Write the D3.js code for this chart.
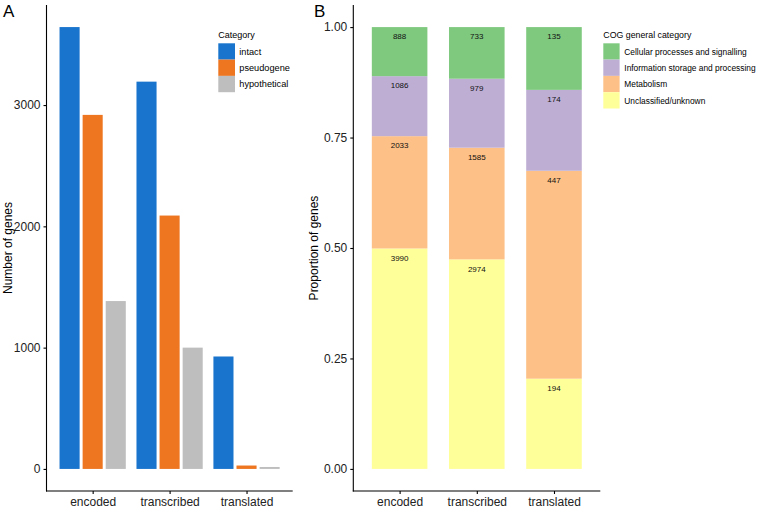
<!DOCTYPE html>
<html><head><meta charset="utf-8">
<script src="https://cdn.jsdelivr.net/npm/d3@7"></script>
<style>body{margin:0;background:#fff}svg{display:block;font-family:"Liberation Sans",Arial,sans-serif}</style>
</head><body><svg id="c" width="757" height="508"></svg>
<script>
// Panel A data
const stages = ["encoded", "transcribed", "translated"];
const categoriesA = ["intact", "pseudogene", "hypothetical"];
const intact = [3643, 3193, 927];
const pseudogene = [2919, 2089, 28];
const hypothetical = [1384, 1000, 16];
const ticksA = [0, 1000, 2000, 3000];
const colorsA = ["#1874CD", "#EE7621", "#BEBEBE"];

// Panel B data (counts, stacked bottom->top)
const cogCategories = ["Cellular processes and signalling", "Information storage and processing", "Metabolism", "Unclassified/unknown"];
const cellular = [888, 733, 135];
const information = [1086, 979, 174];
const metabolism = [2033, 1585, 447];
const unclassified = [3990, 2974, 194];
const ticksB = [0, 0.25, 0.5, 0.75, 1.0];
const colorsB = ["#7FC97F", "#BEAED4", "#FDC086", "#FFFF99"];

const svg = d3.select("#c");
const axisCol = "#000", tickTextCol = "#222";

function styleAxis(g){
  g.selectAll(".domain").remove();
  g.selectAll(".tick line").attr("stroke", axisCol).attr("stroke-width", 1.1);
  g.selectAll(".tick text").attr("fill", tickTextCol).attr("font-size", 12).attr("font-family", "Liberation Sans, Arial, sans-serif");
}

// ---------- Panel A ----------
const xA0 = 46.5, xA1 = 292.7, yTop = 5, yBot = 491;
const yA = d3.scaleLinear().domain([-182, 3825]).range([yBot, yTop]);
const xA = d3.scalePoint().domain(stages).range([xA0, xA1]).padding(0.6);
const stepA = xA.step();
const dodge = d3.scaleBand().domain(categoriesA).range([-0.45*stepA, 0.45*stepA]);
const seriesA = [intact, pseudogene, hypothetical];
const gapA = 3;

const gA = svg.append("g");
stages.forEach((s, i) => {
  categoriesA.forEach((c, j) => {
    const v = seriesA[j][i];
    gA.append("rect")
      .attr("x", xA(s) + dodge(c) + gapA/2)
      .attr("width", dodge.bandwidth() - gapA)
      .attr("y", yA(v))
      .attr("height", yA(0) - yA(v))
      .attr("fill", colorsA[j]);
  });
});
// axes
const axYA = svg.append("g").attr("transform", `translate(${xA0},0)`)
  .call(d3.axisLeft(yA).tickValues(ticksA).tickSize(3).tickPadding(3).tickFormat(d3.format("d")));
styleAxis(axYA);
const axXA = svg.append("g").attr("transform", `translate(0,${yBot})`)
  .call(d3.axisBottom(xA).tickSize(3).tickPadding(3));
styleAxis(axXA);
svg.append("line").attr("x1", xA0).attr("x2", xA0).attr("y1", yTop).attr("y2", yBot+0.5).attr("stroke", axisCol).attr("stroke-width", 1.1);
svg.append("line").attr("x1", xA0-0.5).attr("x2", xA1).attr("y1", yBot).attr("y2", yBot).attr("stroke", axisCol).attr("stroke-width", 1.1);
svg.append("text").attr("transform", `translate(12,${(yTop+yBot)/2}) rotate(-90)`)
  .attr("text-anchor", "middle").attr("font-size", 12).attr("fill", "#000").text("Number of genes");
svg.append("text").attr("x", 3).attr("y", 17).attr("font-size", 17).attr("fill", "#000").text("A");

// Legend A
const legA = svg.append("g").attr("transform", "translate(218.3,0)");
legA.append("text").attr("x", 0).attr("y", 38).attr("font-size", 9).attr("fill", "#000").text("Category");
categoriesA.forEach((c, j) => {
  legA.append("rect").attr("x", 0).attr("y", 43.3 + j*16.3).attr("width", 16.7).attr("height", 16.3).attr("fill", colorsA[j]);
  legA.append("text").attr("x", 21).attr("y", 43.3 + j*16.3 + 11.3).attr("font-size", 9.2).attr("fill", "#000").text(c);
});

// ---------- Panel B ----------
const xB0 = 353.3, xB1 = 600.3;
const yB = d3.scaleLinear().domain([-0.05, 1.05]).range([yBot, yTop]);
const xB = d3.scalePoint().domain(stages).range([xB0, xB1]).padding(0.6);
const bwB = 0.72 * xB.step();
const seriesB = [unclassified, metabolism, information, cellular]; // bottom -> top
const colsBottomUp = [colorsB[3], colorsB[2], colorsB[1], colorsB[0]];

const gB = svg.append("g");
stages.forEach((s, i) => {
  const total = d3.sum(seriesB, a => a[i]);
  let cum = 0;
  seriesB.forEach((arr, k) => {
    const v = arr[i] / total;
    const y0 = cum, y1 = cum + v;
    cum = y1;
    gB.append("rect")
      .attr("x", xB(s) - bwB/2).attr("width", bwB)
      .attr("y", yB(y1)).attr("height", yB(y0) - yB(y1))
      .attr("fill", colsBottomUp[k]);
    gB.append("text")
      .attr("x", xB(s)).attr("y", yB(y1) + 9.5)
      .attr("dy", "0.35em").attr("text-anchor", "middle")
      .attr("font-size", 8).attr("fill", "#111").text(arr[i]);
  });
});
const axYB = svg.append("g").attr("transform", `translate(${xB0},0)`)
  .call(d3.axisLeft(yB).tickValues(ticksB).tickSize(3).tickPadding(3).tickFormat(d3.format(".2f")));
styleAxis(axYB);
const axXB = svg.append("g").attr("transform", `translate(0,${yBot})`)
  .call(d3.axisBottom(xB).tickSize(3).tickPadding(3));
styleAxis(axXB);
svg.append("line").attr("x1", xB0).attr("x2", xB0).attr("y1", yTop).attr("y2", yBot+0.5).attr("stroke", axisCol).attr("stroke-width", 1.1);
svg.append("line").attr("x1", xB0-0.5).attr("x2", xB1).attr("y1", yBot).attr("y2", yBot).attr("stroke", axisCol).attr("stroke-width", 1.1);
svg.append("text").attr("transform", `translate(318,${(yTop+yBot)/2}) rotate(-90)`)
  .attr("text-anchor", "middle").attr("font-size", 12).attr("fill", "#000").text("Proportion of genes");
svg.append("text").attr("x", 314).attr("y", 17).attr("font-size", 17).attr("fill", "#000").text("B");

// Legend B
const legB = svg.append("g").attr("transform", "translate(603.3,0)");
legB.append("text").attr("x", 0).attr("y", 38).attr("font-size", 8.8).attr("fill", "#000").text("COG general category");
cogCategories.forEach((c, j) => {
  legB.append("rect").attr("x", 0).attr("y", 43.3 + j*16.3).attr("width", 16.3).attr("height", 16.3).attr("fill", colorsB[j]);
  legB.append("text").attr("x", 21).attr("y", 43.3 + j*16.3 + 11.3).attr("font-size", 8.4).attr("fill", "#000").text(c);
});
</script></body></html>
